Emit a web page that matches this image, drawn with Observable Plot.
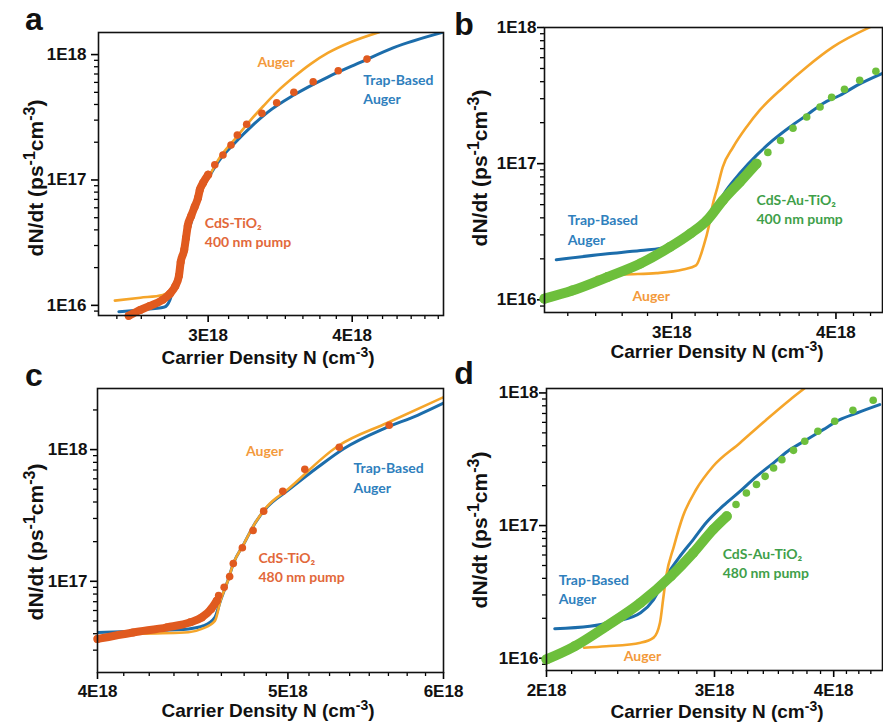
<!DOCTYPE html>
<html><head><meta charset="utf-8">
<script src="https://cdn.jsdelivr.net/npm/d3@7"></script>
<script src="https://cdn.jsdelivr.net/npm/@observablehq/plot@0.6"></script>
<style>
html,body{margin:0;padding:0;background:#fff;}
#fig{position:relative;width:883px;height:727px;overflow:hidden;background:#fff;}
#fig svg{position:absolute;overflow:visible;}
</style></head><body><div id="fig"></div>
<script>
// ---------- DATA (x in units of 1E18 cm^-3, y in ps^-1 cm^-3) ----------
// Panel a : CdS-TiO2, 400 nm pump
const aTrapX  = [2.51,2.62,2.75,2.78,2.80,2.82,2.83,2.86,2.88,2.91,2.92,2.95,2.98,3.06,3.17,3.28,3.38,3.56,3.81,4.07,4.34,4.80];
const aTrapY  = [8.9e15,9.2e15,9.7e15,1.11e16,1.38e16,1.75e16,2.10e16,3.03e16,3.85e16,5.26e16,6.68e16,8.0e16,9.3e16,1.39e17,2.01e17,2.74e17,3.48e17,4.76e17,6.62e17,8.7e17,1.13e18,1.51e18];
const aAugerX = [2.49,2.62,2.74,2.79,2.83,2.86,2.88,2.92,2.98,3.06,3.17,3.26,3.35,3.44,3.56,3.68,3.81,3.99,4.22];
const aAugerY = [1.09e16,1.15e16,1.21e16,1.38e16,1.85e16,2.77e16,4.15e16,6.3e16,9.1e16,1.44e17,2.16e17,2.95e17,3.89e17,5.02e17,6.62e17,8.4e17,1.03e18,1.26e18,1.51e18];
const aBandX  = [2.56,2.62,2.67,2.74,2.78,2.81,2.83,2.84,2.86,2.87,2.88,2.90,2.92,2.94,2.95,2.97,3.00];
const aBandY  = [8.25e15,9.2e15,9.9e15,1.11e16,1.24e16,1.43e16,1.72e16,2.22e16,2.77e16,3.45e16,4.3e16,5.17e16,6.1e16,7.2e16,8.3e16,9.5e16,1.10e17];
const aDotsX  = [3.04,3.09,3.14,3.18,3.24,3.34,3.44,3.56,3.70,3.89,4.12];
const aDotsY  = [1.32e17,1.58e17,1.90e17,2.28e17,2.78e17,3.40e17,4.13e17,5.0e17,6.07e17,7.43e17,9.2e17];

// Panel b : CdS-Au-TiO2, 400 nm pump
const bTrapX  = [2.45,2.68,2.84,2.99,3.08,3.15,3.23,3.30,3.38,3.48,3.58,3.69,3.80,3.91,4.03,4.15,4.34];
const bTrapY  = [1.97e16,2.18e16,2.30e16,2.47e16,2.81e16,3.42e16,4.54e16,6.37e16,8.49e16,1.15e17,1.48e17,1.86e17,2.27e17,2.77e17,3.18e17,3.76e17,4.61e17];
const bAugerX = [2.63,2.75,2.92,3.06,3.13,3.17,3.20,3.22,3.25,3.28,3.34,3.42,3.50,3.65,3.80,3.98,4.25];
const bAugerY = [1.47e16,1.53e16,1.57e16,1.67e16,1.79e16,2.44e16,3.42e16,4.80e16,6.73e16,9.44e16,1.32e17,1.86e17,2.47e17,3.66e17,5.13e17,7.20e17,1.01e18];
const bBandX  = [2.40,2.52,2.68,2.84,2.99,3.10,3.19,3.28,3.38,3.48];
const bBandY  = [1.02e16,1.17e16,1.47e16,1.85e16,2.44e16,3.07e16,3.83e16,5.37e16,7.33e16,1.0e17];
const bDotsX  = [3.55,3.63,3.71,3.80,3.89,3.97,4.06,4.17,4.29];
const bDotsY  = [1.21e17,1.48e17,1.82e17,2.20e17,2.61e17,3.07e17,3.52e17,4.10e17,4.77e17];

// Panel c : CdS-TiO2, 480 nm pump
const cTrapX  = [4.00,4.26,4.45,4.53,4.59,4.62,4.66,4.69,4.75,4.81,4.88,5.00,5.18,5.34,5.60,5.82,6.00];
const cTrapY  = [4.09e16,4.22e16,4.35e16,4.60e16,5.32e16,7.13e16,1.01e17,1.36e17,1.94e17,2.75e17,3.66e17,4.90e17,7.37e17,1.02e18,1.45e18,1.82e18,2.25e18];
const cAugerX = [4.21,4.45,4.52,4.59,4.62,4.66,4.69,4.75,4.81,4.88,5.00,5.30,5.62,6.00];
const cAugerY = [4.0e16,4.1e16,4.35e16,5.0e16,7.13e16,1.01e17,1.36e17,1.94e17,2.75e17,3.7e17,5.0e17,1.06e18,1.6e18,2.5e18];
const cBandX  = [4.00,4.17,4.34,4.46,4.52,4.57,4.60];
const cBandY  = [3.65e16,4.09e16,4.47e16,4.88e16,5.32e16,6.17e16,7.13e16];
const cDotsX  = [4.61,4.64,4.67,4.69,4.74,4.80,4.86,4.97,5.10,5.31,5.63];
const cDotsY  = [7.78e16,9.0e16,1.086e17,1.364e17,1.80e17,2.43e17,3.41e17,4.82e17,7.08e17,1.04e18,1.53e18];

// Panel d : CdS-Au-TiO2, 480 nm pump
const dTrapX  = [2.04,2.22,2.37,2.51,2.59,2.67,2.76,2.85,2.94,3.06,3.19,3.32,3.46,3.60,3.75,3.90,4.06,4.23,4.47];
const dTrapY  = [1.67e16,1.74e16,1.90e16,2.20e16,2.77e16,4.15e16,5.87e16,7.84e16,1.05e17,1.40e17,1.81e17,2.35e17,2.97e17,3.74e17,4.45e17,5.29e17,6.29e17,7.06e17,8.16e17];
const dAugerX = [2.19,2.31,2.51,2.59,2.63,2.65,2.67,2.72,2.78,2.87,2.99,3.19,3.40,3.60,3.75];
const dAugerY = [1.20e16,1.23e16,1.31e16,1.43e16,1.85e16,2.77e16,4.15e16,6.98e16,1.175e17,1.87e17,2.80e17,4.20e17,6.29e17,8.90e17,1.12e18];
const dBandX  = [2.00,2.14,2.31,2.51,2.70,2.85,2.99,3.09];
const dBandY  = [9.8e15,1.23e16,1.74e16,2.62e16,4.15e16,6.23e16,9.33e16,1.175e17];
const dDotsX  = [3.16,3.24,3.32,3.39,3.46,3.53,3.63,3.73,3.85,4.01,4.19,4.40];
const dDotsY  = [1.44e17,1.76e17,2.04e17,2.35e17,2.72e17,3.14e17,3.69e17,4.32e17,5.14e17,6.11e17,7.39e17,8.80e17];

// Tick values (labels)
const aXTicks = [3, 4], bXTicks = [3, 4], cXTicks = [4, 5, 6], dXTicks = [2, 3, 4];
const yTicks = [1e16, 1e17, 1e18];

// Annotation text
const sampleTiO2 = "CdS-TiO\u2082", sampleAu = "CdS-Au-TiO\u2082";
const pump400 = "400 nm pump", pump480 = "480 nm pump";
const trapLabel = "Trap-Based\nAuger", augerLabel = "Auger";

// ---------- STYLE ----------
const BLUE = "#1c6dab", ORANGE = "#f5a52a", RED = "#e05a1f", GREEN = "#6dbf3c";
const T_ORANGE = "#f39a3c", T_BLUE = "#2f80bd", T_RED = "#e2683a", T_GREEN = "#3f9f4a";
const AXFONT = "'Liberation Sans', Arial, sans-serif";

const pts = (xs, ys) => xs.map((x, i) => ({x, y: ys[i]}));
const fmtX = d => d + "E18";
const fmtY = d => "1E" + Math.round(Math.log10(d));

function minorX(dom) {
  return d3.range(1, 80).map(i => i * 0.125).filter(v => v > dom[0] && v < dom[1] && Math.abs(v - Math.round(v)) > 1e-9);
}
function minorY(dom) {
  const out = [];
  for (let e = 15; e <= 18; e++) for (let m = 2; m <= 9; m++) { const v = m * 10 ** e; if (v > dom[0] && v < dom[1]) out.push(v); }
  return out;
}

function panel(cfg) {
  const {w, h, ml, mr, mt, mb, xd, yd, xTicks, trap, auger, band, dots, dataColor, bandW, labels, yPad, xLabDy} = cfg;
  const lab = {fontFamily: "Lato, 'Open Sans', sans-serif", fontWeight: "bold", fontSize: 14, lineHeight: 1.4, textAnchor: "start"};
  const yMaj = yTicks.filter(v => v >= yd[0] && v <= yd[1]);
  return Plot.plot({
    width: w, height: h, marginLeft: ml, marginRight: mr, marginTop: mt, marginBottom: mb,
    style: {background: "transparent", overflow: "visible", fontFamily: AXFONT},
    x: {type: "log", domain: xd},
    y: {type: "log", domain: yd},
    marks: [
      Plot.axisX(minorX(xd), {anchor: "bottom", tickSize: 4, tickFormat: () => "", label: null, strokeWidth: 1.3}),
      Plot.axisX(xTicks, {anchor: "bottom", tickSize: 7, tickFormat: () => "", label: null, strokeWidth: 1.6}),
      Plot.text(xTicks, {x: d => d, text: fmtX, frameAnchor: "bottom", dy: xLabDy, lineAnchor: "top",
        fontSize: 17, fontWeight: "bold", fontFamily: AXFONT, fill: "#111"}),
      Plot.axisY(minorY(yd), {anchor: "left", tickSize: 4, tickFormat: () => "", label: null, strokeWidth: 1.3}),
      Plot.axisY(yMaj, {anchor: "left", tickSize: 7, tickFormat: () => "", label: null, strokeWidth: 1.6}),
      Plot.text(yMaj, {y: d => d, text: fmtY, frameAnchor: "left", dx: -(7 + yPad), textAnchor: "end",
        fontSize: 17, fontWeight: "bold", fontFamily: AXFONT, fill: "#111"}),
      Plot.line(trap, {x: "x", y: "y", stroke: BLUE, strokeWidth: 3, curve: "monotone-x", clip: true}),
      Plot.line(auger, {x: "x", y: "y", stroke: ORANGE, strokeWidth: 2.6, curve: "monotone-x", clip: true}),
      Plot.line(band, {x: "x", y: "y", stroke: dataColor, strokeWidth: bandW, curve: "monotone-x", strokeLinecap: "round"}),
      Plot.dot(band, {x: "x", y: "y", r: bandW / 2, fill: dataColor}),
      Plot.dot(dots, {x: "x", y: "y", r: 3.8, fill: dataColor}),
      Plot.text(labels, {x: "x", y: "y", text: "t", fill: "c", ...lab}),
      Plot.frame({stroke: "#111", strokeWidth: 1.6})
    ]
  });
}

function titles(svg, c) {
  const s = d3.select(svg);
  s.append("text").attr("x", c.lx).attr("y", c.ly).attr("font-family", AXFONT).attr("font-weight", "bold")
    .attr("font-size", 32).attr("fill", "#111").text(c.letter);
  const xt = s.append("text").attr("x", c.xtx).attr("y", c.xty).attr("text-anchor", "middle")
    .attr("font-family", AXFONT).attr("font-weight", "bold").attr("font-size", 19).attr("fill", "#111");
  xt.append("tspan").text("Carrier Density N (cm");
  xt.append("tspan").attr("dy", -7).attr("font-size", 14).text("-3");
  xt.append("tspan").attr("dy", 7).text(")");
  const yt = s.append("text").attr("transform", `translate(${c.ytx},${c.yty}) rotate(-90)`).attr("text-anchor", "middle")
    .attr("font-family", AXFONT).attr("font-weight", "bold").attr("font-size", 21).attr("fill", "#111");
  yt.append("tspan").text("dN/dt (ps");
  yt.append("tspan").attr("dy", -8).attr("font-size", 16).text("-1");
  yt.append("tspan").attr("dy", 8).text("cm");
  yt.append("tspan").attr("dy", -8).attr("font-size", 16).text("-3");
  yt.append("tspan").attr("dy", 8).text(")");
}

const fig = document.getElementById("fig");
function place(svg, left, top) { svg.style.left = left + "px"; svg.style.top = top + "px"; fig.appendChild(svg); }

// Panel a
const sa = panel({w: 445, h: 365, ml: 98, mr: 2, mt: 32, mb: 50, xd: [2.41, 4.80], yd: [8.3e15, 1.5e18], xTicks: aXTicks, yPad: 5, xLabDy: 13,
  trap: pts(aTrapX, aTrapY), auger: pts(aAugerX, aAugerY), band: pts(aBandX, aBandY), dots: pts(aDotsX, aDotsY), dataColor: RED, bandW: 8,
  labels: [
    {x: 3.31, y: 8.87e17, t: augerLabel, c: T_ORANGE},
    {x: 4.09, y: 5.40e17, t: trapLabel, c: T_BLUE},
    {x: 2.98, y: 3.90e16, t: sampleTiO2 + "\n" + pump400, c: T_RED}
  ]});
titles(sa, {letter: "a", lx: 34, ly: 30, xtx: 268, xty: 364, ytx: 43, yty: 178});
place(sa, 0, 0);

// Panel b
const sb = panel({w: 443, h: 365, ml: 104, mr: 1, mt: 27, mb: 53, xd: [2.40, 4.34], yd: [8.07e15, 1.0e18], xTicks: bXTicks, yPad: 1, xLabDy: 13,
  trap: pts(bTrapX, bTrapY), auger: pts(bAugerX, bAugerY), band: pts(bBandX, bBandY), dots: pts(bDotsX, bDotsY), dataColor: GREEN, bandW: 10,
  labels: [
    {x: 2.50, y: 3.34e16, t: trapLabel, c: T_BLUE},
    {x: 2.80, y: 1.09e16, t: augerLabel, c: T_ORANGE},
    {x: 3.48, y: 4.69e16, t: sampleAu + "\n" + pump400, c: T_GREEN}
  ]});
titles(sb, {letter: "b", lx: 24, ly: 35, xtx: 277, xty: 358, ytx: 47, yty: 168});
place(sb, 440, 0);

// Panel c
const sc = panel({w: 445, h: 367, ml: 97, mr: 2, mt: 28, mb: 55, xd: [4.0, 6.0], yd: [2.03e16, 2.91e18], xTicks: cXTicks, yPad: 3, xLabDy: 12,
  trap: pts(cTrapX, cTrapY), auger: pts(cAugerX, cAugerY), band: pts(cBandX, cBandY), dots: pts(cDotsX, cDotsY), dataColor: RED, bandW: 8,
  labels: [
    {x: 4.76, y: 1.0e18, t: augerLabel, c: T_ORANGE},
    {x: 5.40, y: 6.21e17, t: trapLabel, c: T_BLUE},
    {x: 4.83, y: 1.305e17, t: sampleTiO2 + "\n" + pump480, c: T_RED}
  ]});
titles(sc, {letter: "c", lx: 34, ly: 26, xtx: 268, xty: 357, ytx: 43, yty: 182});
place(sc, 0, 360);

// Panel d
const sd = panel({w: 443, h: 367, ml: 106, mr: 1, mt: 28, mb: 57, xd: [2.0, 4.50], yd: [8.08e15, 1.08e18], xTicks: dXTicks, yPad: 1, xLabDy: 13,
  trap: pts(dTrapX, dTrapY), auger: pts(dAugerX, dAugerY), band: pts(dBandX, dBandY), dots: pts(dDotsX, dDotsY), dataColor: GREEN, bandW: 10,
  labels: [
    {x: 2.06, y: 3.38e16, t: trapLabel, c: T_BLUE},
    {x: 2.41, y: 1.07e16, t: augerLabel, c: T_ORANGE},
    {x: 3.06, y: 5.31e16, t: sampleAu + "\n" + pump480, c: T_GREEN}
  ]});
titles(sd, {letter: "d", lx: 24, ly: 24, xtx: 277, xty: 358, ytx: 47, yty: 170});
place(sd, 440, 360);
</script>
</body></html>
